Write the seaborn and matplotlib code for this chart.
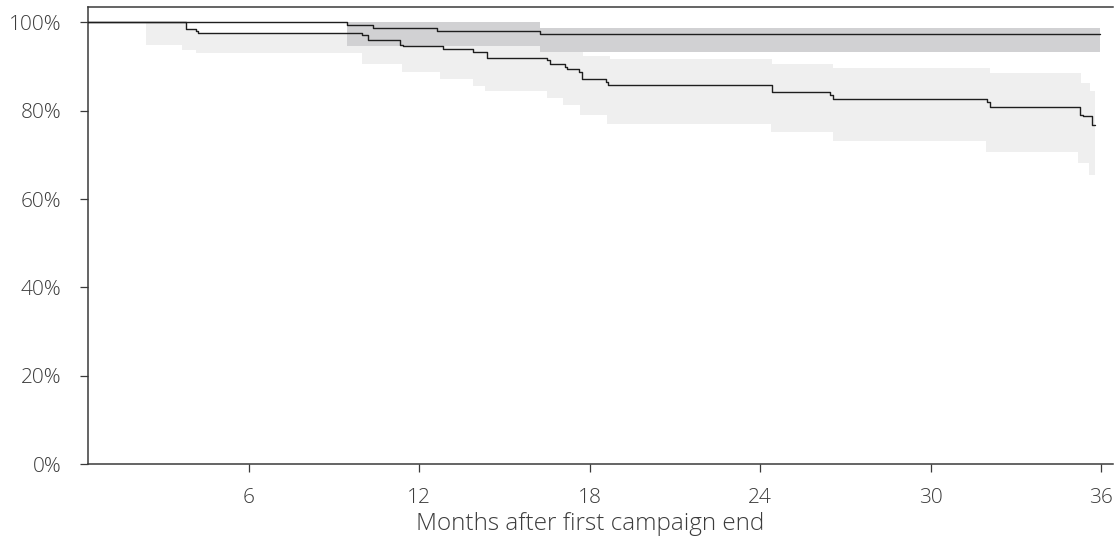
import matplotlib
matplotlib.use("Agg")
import matplotlib.pyplot as plt
from matplotlib.ticker import PercentFormatter
import seaborn as sns
import pandas as pd

# ---- data ----
# curve A (upper curve)
time_a = [0.0, 9.48, 10.39, 12.62, 16.26, 35.96]
surv_a = [1.0, 0.994, 0.988, 0.981, 0.973, 0.973]
# confidence band A
band_a_time = [9.48, 16.26, 35.96]
band_a_low = [0.947, 0.933, 0.933]
band_a_high = [1.0, 0.988, 0.988]

# curve B (lower curve)
time_b = [0.0, 3.80, 4.15, 4.23, 9.98, 10.21, 11.33, 11.45, 12.85, 13.91, 14.38,
          16.49, 16.61, 17.14, 17.20, 17.64, 17.72, 18.58, 18.64, 24.41, 26.46,
          26.55, 31.97, 32.09, 35.26, 35.37, 35.67, 35.78]
surv_b = [1.0, 0.986, 0.980, 0.976, 0.971, 0.960, 0.950, 0.947, 0.939, 0.933, 0.920,
          0.915, 0.906, 0.899, 0.894, 0.888, 0.873, 0.866, 0.858, 0.843, 0.835,
          0.826, 0.820, 0.808, 0.791, 0.788, 0.767, 0.767]
# confidence band B
band_b_time = [2.39, 3.65, 3.80, 4.15, 4.23, 9.48, 9.98, 11.39, 12.74, 13.90, 14.32,
               16.26, 16.49, 17.08, 17.67, 17.78, 18.60, 18.72, 24.37, 24.41, 26.58,
               31.95, 32.09, 35.20, 35.31, 35.59, 35.61, 35.78]
band_b_low = [0.948, 0.938, 0.938, 0.930, 0.930, 0.930, 0.907, 0.888, 0.872, 0.856, 0.845,
              0.845, 0.829, 0.814, 0.791, 0.791, 0.770, 0.770, 0.751, 0.751, 0.731,
              0.706, 0.706, 0.682, 0.682, 0.654, 0.654, 0.654]
band_b_high = [1.0, 1.0, 0.986, 0.980, 0.976, 0.990, 0.990, 0.990, 0.990, 0.990, 0.990,
               0.933, 0.933, 0.933, 0.933, 0.925, 0.925, 0.917, 0.917, 0.905, 0.896,
               0.896, 0.885, 0.885, 0.864, 0.864, 0.844, 0.844]

x_ticks = [6, 12, 18, 24, 30, 36]
y_ticks = [0, 0.2, 0.4, 0.6, 0.8, 1.0]
x_label = "Months after first campaign end"

# ---- style ----
sns.set_theme(style="ticks")
plt.rcParams["font.family"] = ["Open Sans", "DejaVu Sans"]

fig = plt.figure(figsize=(11.16, 5.41), dpi=100)
ax = fig.add_axes([88 / 1116, 1 - 464 / 541, (1113 - 88) / 1116, (464 - 7) / 541])

light = "#efefef"
dark = "#d1d1d3"
line_c = "#1e1e1e"

ax.fill_between(band_b_time, band_b_low, band_b_high, step="post", color=light, lw=0, zorder=1)
ax.fill_between(band_a_time, band_a_low, band_a_high, step="post", color=dark, lw=0, zorder=2)

df_a = pd.DataFrame({"t": time_a, "s": surv_a})
df_b = pd.DataFrame({"t": time_b, "s": surv_b})
sns.lineplot(data=df_b, x="t", y="s", ax=ax, color=line_c, lw=1.0,
             drawstyle="steps-post", estimator=None, zorder=3)
sns.lineplot(data=df_a, x="t", y="s", ax=ax, color=line_c, lw=1.0,
             drawstyle="steps-post", estimator=None, zorder=3)

ax.set_xlim(0.35, 36.42)
ax.set_ylim(0, 1.035)
ax.set_xticks(x_ticks)
ax.set_yticks(y_ticks)
ax.yaxis.set_major_formatter(PercentFormatter(1.0, decimals=0))

for s in ["left", "bottom", "top"]:
    ax.spines[s].set_color("#3a3a3a")
    ax.spines[s].set_linewidth(1.1)
ax.spines["right"].set_visible(False)

ax.tick_params(axis="both", length=6, width=0.9, color="#3a3a3a",
               labelsize=15, labelcolor="#3c3c3c")
ax.tick_params(axis="x", pad=11)
ax.tick_params(axis="y", pad=13)
for lab in ax.get_xticklabels() + ax.get_yticklabels():
    lab.set_fontweight("light")

ax.set_xlabel(x_label, fontsize=17.5, fontweight="light", color="#3c3c3c",
              labelpad=3, x=0.49)
ax.set_ylabel("")

fig.savefig("out.png", dpi=100)
